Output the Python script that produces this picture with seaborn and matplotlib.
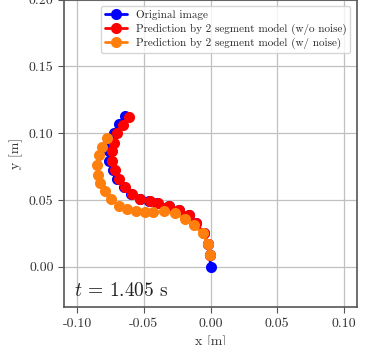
import numpy as np
import matplotlib
matplotlib.use("Agg")
import matplotlib.pyplot as plt
import seaborn as sns

# trajectory points (x [m], y [m])
orig_x = [0.0, -0.0005, -0.002, -0.005, -0.011, -0.0165, -0.024, -0.0315, -0.040, -0.046,
          -0.053, -0.0595, -0.065, -0.070, -0.0735, -0.0762, -0.0765, -0.0752, -0.0728, -0.0688, -0.064]
orig_y = [0.0, 0.009, 0.017, 0.025, 0.0328, 0.039, 0.0428, 0.0458, 0.048, 0.049,
          0.051, 0.0548, 0.0598, 0.0658, 0.0722, 0.079, 0.0865, 0.093, 0.1003, 0.107, 0.113]

pred_x = [-0.0005, -0.002, -0.005, -0.011, -0.0163, -0.0238, -0.0313, -0.0396, -0.0456, -0.0526,
          -0.0589, -0.0639, -0.0684, -0.0714, -0.0739, -0.0739, -0.0727, -0.070, -0.066, -0.0615]
pred_y = [0.009, 0.017, 0.025, 0.0328, 0.039, 0.0428, 0.0458, 0.048, 0.049, 0.051,
          0.0548, 0.0598, 0.0658, 0.0722, 0.079, 0.0865, 0.093, 0.100, 0.1065, 0.112]

noise_x = [-0.0005, -0.002, -0.006, -0.0125, -0.019, -0.027, -0.035, -0.043, -0.049, -0.0556,
           -0.0627, -0.069, -0.0747, -0.0795, -0.0827, -0.0845, -0.085, -0.084, -0.0814, -0.0777]
noise_y = [0.009, 0.017, 0.025, 0.031, 0.036, 0.040, 0.0415, 0.041, 0.0407, 0.0415,
           0.0433, 0.0458, 0.051, 0.057, 0.0628, 0.069, 0.0765, 0.084, 0.090, 0.0965]

time_label = r"$t$ = 1.405 s"

sns.set_style("ticks")
plt.rcParams.update({
    "font.family": "serif",
    "font.serif": ["cmr10"],
    "mathtext.fontset": "cm",
    "axes.formatter.use_mathtext": True,
    "axes.unicode_minus": True,
})

fig = plt.figure(figsize=(3.83, 3.45), dpi=100)
ax = fig.add_axes([64 / 383, 38 / 345, 293 / 383, 307.5 / 345])

series = [
    (orig_x, orig_y, "blue", "Original image"),
    (pred_x, pred_y, "red", "Prediction by 2 segment model (w/o noise)"),
    (noise_x, noise_y, "#ff7f0e", "Prediction by 2 segment model (w/ noise)"),
]
for xs, ys, col, lab in series:
    sns.lineplot(x=xs, y=ys, sort=False, estimator=None, color=col, marker="o",
                 markersize=8, markeredgewidth=0, linewidth=2, label=lab, ax=ax)

ax.set_xlim(-0.11, 0.11)
ax.set_ylim(-0.03, 0.20)
ax.set_xticks([-0.10, -0.05, 0.0, 0.05, 0.10])
ax.set_yticks([0.0, 0.05, 0.10, 0.15, 0.20])
ax.xaxis.set_major_formatter(matplotlib.ticker.FormatStrFormatter("%.2f"))
ax.yaxis.set_major_formatter(matplotlib.ticker.FormatStrFormatter("%.2f"))
ax.grid(True, color="#c0c0c0", linewidth=0.9)
ax.set_axisbelow(True)
for sp in ax.spines.values():
    sp.set_color("#555555")
    sp.set_linewidth(1.2)
ax.tick_params(colors="#555555", labelcolor="#333333", labelsize=10, length=4)
ax.set_xlabel("x [m]", fontsize=10, color="#333333")
ax.set_ylabel("y [m]", fontsize=10, color="#333333")

ax.legend(loc="upper right", fontsize=8, frameon=True, borderpad=0.35,
          labelspacing=0.3, handlelength=2.0, borderaxespad=0.6)
ax.text(0.035, 0.035, time_label, transform=ax.transAxes, fontsize=14, color="#222222")

fig.savefig("out.png", dpi=100)
